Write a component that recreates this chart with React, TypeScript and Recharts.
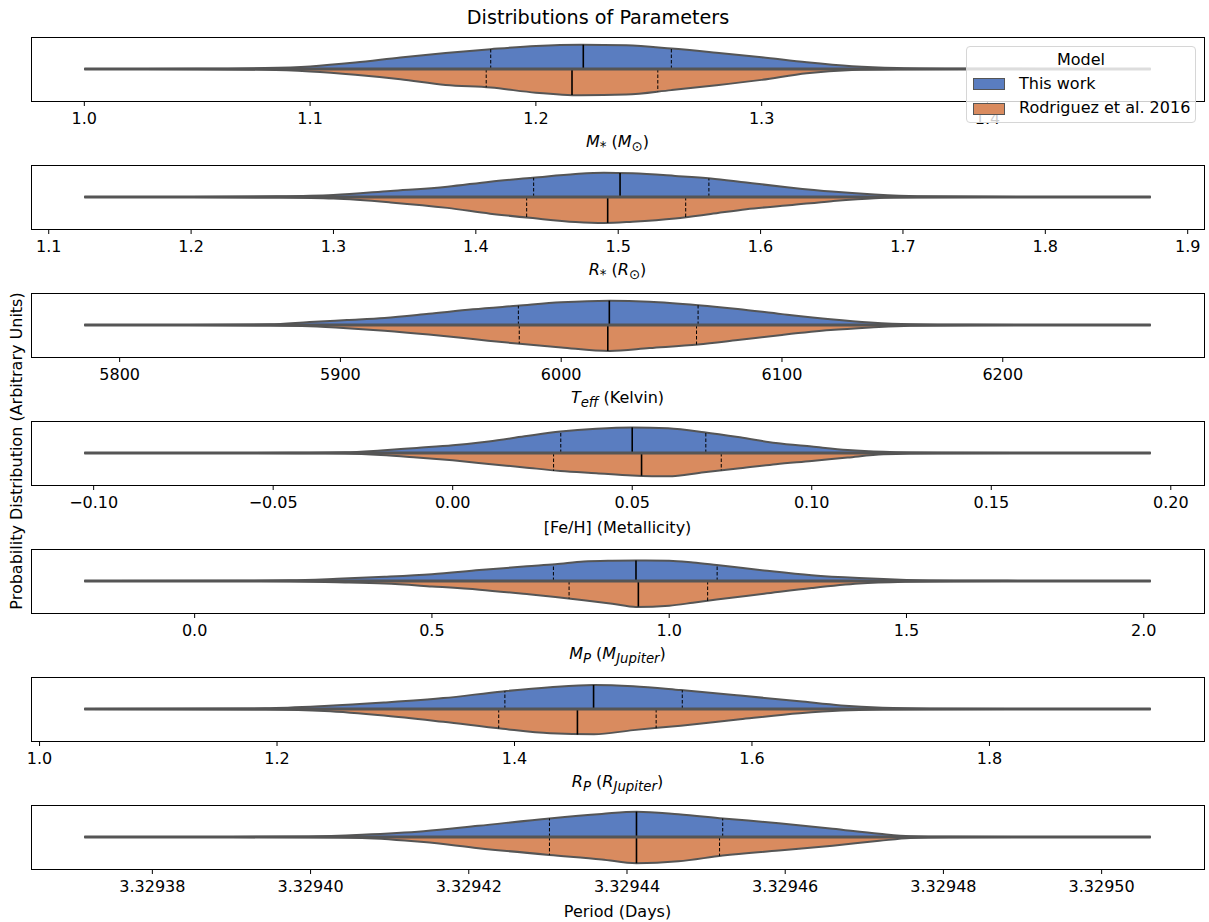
import React from "react";
import { AreaChart, Area, XAxis, YAxis, ReferenceLine } from "recharts";

const BLUE = "#5a7dc0";
const ORANGE = "#d98b5f";
const EDGE = "#555555";
const FONT = "'DejaVu Sans', sans-serif";
const FS = 16;

// M* (stellar mass)
const massX = [1.0, 1.05, 1.08, 1.1, 1.12, 1.14, 1.16, 1.18, 1.2, 1.22, 1.24, 1.26, 1.28, 1.3, 1.32, 1.34, 1.36, 1.39, 1.43, 1.4723];
const massBlue = [0, 0.002, 0.014, 0.04, 0.1, 0.18, 0.25, 0.31, 0.36, 0.38, 0.37, 0.32, 0.255, 0.185, 0.105, 0.044, 0.016, 0.004, 0.001, 0];
const massOrange = [0, 0.002, 0.011, 0.038, 0.09, 0.16, 0.25, 0.29, 0.37, 0.41, 0.4, 0.33, 0.255, 0.17, 0.065, 0.016, 0.005, 0.001, 0, 0];
const massQBlue = [1.18, 1.221, 1.26];
const massQBlueH = [0.31, 0.38, 0.32];
const massQOrange = [1.178, 1.216, 1.254];
const massQOrangeH = [0.286, 0.405, 0.35];
const massTicks = [1.0, 1.1, 1.2, 1.3, 1.4];

// R* (stellar radius)
const radX = [1.125, 1.2, 1.26, 1.3, 1.34, 1.38, 1.41, 1.44, 1.47, 1.49, 1.51, 1.54, 1.565, 1.59, 1.62, 1.65, 1.68, 1.71, 1.76, 1.874];
const radBlue = [0, 0.001, 0.01, 0.032, 0.095, 0.16, 0.24, 0.3, 0.36, 0.38, 0.37, 0.33, 0.29, 0.225, 0.15, 0.085, 0.04, 0.012, 0.002, 0];
const radOrange = [0, 0.001, 0.008, 0.025, 0.085, 0.17, 0.26, 0.33, 0.39, 0.405, 0.385, 0.335, 0.265, 0.19, 0.13, 0.065, 0.018, 0.004, 0.001, 0];
const radQBlue = [1.4406, 1.5013, 1.5637];
const radQBlueH = [0.3, 0.375, 0.29];
const radQOrange = [1.4357, 1.4926, 1.5474];
const radQOrangeH = [0.32, 0.405, 0.32];
const radTicks = [1.1, 1.2, 1.3, 1.4, 1.5, 1.6, 1.7, 1.8, 1.9];

// Teff
const teffX = [5784, 5830, 5868, 5886, 5903, 5920, 5940, 5960, 5980, 6000, 6022, 6040, 6062, 6080, 6100, 6122, 6140, 6158, 6185, 6230, 6267];
const teffBlue = [0, 0.001, 0.01, 0.047, 0.078, 0.11, 0.175, 0.245, 0.3, 0.355, 0.38, 0.365, 0.31, 0.25, 0.17, 0.09, 0.04, 0.012, 0.003, 0.001, 0];
const teffOrange = [0, 0.001, 0.008, 0.02, 0.05, 0.09, 0.15, 0.22, 0.29, 0.35, 0.405, 0.36, 0.305, 0.235, 0.155, 0.08, 0.04, 0.01, 0.002, 0, 0];
const teffQBlue = [5980.6, 6021.8, 6062];
const teffQBlueH = [0.3, 0.38, 0.31];
const teffQOrange = [5981, 6021.1, 6061.3];
const teffQOrangeH = [0.29, 0.405, 0.305];
const teffTicks = [5800, 5900, 6000, 6100, 6200];

// [Fe/H]
const fehX = [-0.1026, -0.06, -0.04, -0.03, -0.02, -0.01, 0.0, 0.01, 0.02, 0.03, 0.04, 0.05, 0.06, 0.07, 0.08, 0.09, 0.1, 0.11, 0.12, 0.135, 0.16, 0.1944];
const fehBlue = [0, 0.001, 0.004, 0.01, 0.04, 0.08, 0.12, 0.18, 0.26, 0.335, 0.38, 0.4, 0.385, 0.325, 0.245, 0.155, 0.1, 0.047, 0.018, 0.003, 0.001, 0];
const fehOrange = [0, 0.001, 0.003, 0.008, 0.03, 0.07, 0.115, 0.17, 0.225, 0.28, 0.315, 0.35, 0.365, 0.3, 0.24, 0.175, 0.125, 0.07, 0.02, 0.003, 0.001, 0];
const fehQBlue = [0.0301, 0.05, 0.0705];
const fehQBlueH = [0.335, 0.4, 0.32];
const fehQOrange = [0.0281, 0.0526, 0.0748];
const fehQOrangeH = [0.28, 0.355, 0.27];
const fehTicks = [-0.1, -0.05, 0.0, 0.05, 0.1, 0.15, 0.2];

// Mp (planet mass)
const mpX = [-0.2325, 0.1, 0.2, 0.3, 0.4, 0.5, 0.6, 0.7, 0.76, 0.82, 0.88, 0.93, 1.0, 1.05, 1.1, 1.2, 1.3, 1.4, 1.5, 1.6, 1.8, 2.0146];
const mpBlue = [0, 0.002, 0.01, 0.035, 0.065, 0.105, 0.17, 0.23, 0.26, 0.305, 0.318, 0.322, 0.318, 0.29, 0.25, 0.165, 0.09, 0.045, 0.016, 0.005, 0.001, 0];
const mpOrange = [0, 0.001, 0.005, 0.02, 0.04, 0.085, 0.135, 0.205, 0.25, 0.3, 0.355, 0.405, 0.385, 0.34, 0.29, 0.2, 0.11, 0.04, 0.012, 0.003, 0, 0];
const mpQBlue = [0.756, 0.93, 1.101];
const mpQBlueH = [0.258, 0.322, 0.25];
const mpQOrange = [0.789, 0.935, 1.081];
const mpQOrangeH = [0.275, 0.4, 0.31];
const mpTicks = [0.0, 0.5, 1.0, 1.5, 2.0];

// Rp (planet radius)
const rpX = [1.0377, 1.12, 1.19, 1.24, 1.29, 1.34, 1.39, 1.43, 1.467, 1.5, 1.54, 1.59, 1.64, 1.675, 1.71, 1.75, 1.82, 1.9358];
const rpBlue = [0, 0.002, 0.01, 0.045, 0.1, 0.17, 0.275, 0.34, 0.375, 0.355, 0.295, 0.21, 0.12, 0.055, 0.018, 0.004, 0.001, 0];
const rpOrange = [0, 0.002, 0.008, 0.03, 0.1, 0.2, 0.31, 0.38, 0.395, 0.33, 0.26, 0.16, 0.068, 0.024, 0.007, 0.002, 0, 0];
const rpQBlue = [1.3919, 1.4666, 1.5413];
const rpQBlueH = [0.278, 0.375, 0.295];
const rpQOrange = [1.3867, 1.453, 1.5193];
const rpQOrangeH = [0.305, 0.4, 0.3];
const rpTicks = [1.0, 1.2, 1.4, 1.6, 1.8];

// Period
const perX = [3.3293714, 3.32939, 3.3293997, 3.3294065, 3.3294143, 3.3294212, 3.3294302, 3.3294368, 3.3294412, 3.3294465, 3.3294521, 3.3294592, 3.329466, 3.3294719, 3.3294758, 3.3294807, 3.32949, 3.3295062];
const perBlue = [0, 0.001, 0.008, 0.035, 0.09, 0.175, 0.29, 0.36, 0.396, 0.355, 0.29, 0.215, 0.13, 0.05, 0.012, 0.003, 0.001, 0];
const perOrange = [0, 0.001, 0.004, 0.015, 0.08, 0.175, 0.28, 0.35, 0.41, 0.38, 0.29, 0.21, 0.135, 0.06, 0.016, 0.004, 0.001, 0];
const perQBlue = [3.3294302, 3.3294412, 3.3294521];
const perQBlueH = [0.29, 0.396, 0.29];
const perQOrange = [3.3294302, 3.3294412, 3.3294517];
const perQOrangeH = [0.28, 0.41, 0.295];
const perTicks = [3.32938, 3.3294, 3.32942, 3.32944, 3.32946, 3.32948, 3.3295];

const minus = (s: string) => s.replace("-", "\u2212");

const panels = [
  { x: massX, blue: massBlue, orange: massOrange, qb: massQBlue, qbh: massQBlueH, qo: massQOrange, qoh: massQOrangeH, ticks: massTicks, fmt: (v: number) => v.toFixed(1),
    label: <><i>M</i><sub>*</sub> (<i>M</i><sub>⊙</sub>)</> },
  { x: radX, blue: radBlue, orange: radOrange, qb: radQBlue, qbh: radQBlueH, qo: radQOrange, qoh: radQOrangeH, ticks: radTicks, fmt: (v: number) => v.toFixed(1),
    label: <><i>R</i><sub>*</sub> (<i>R</i><sub>⊙</sub>)</> },
  { x: teffX, blue: teffBlue, orange: teffOrange, qb: teffQBlue, qbh: teffQBlueH, qo: teffQOrange, qoh: teffQOrangeH, ticks: teffTicks, fmt: (v: number) => v.toFixed(0),
    label: <><i>T<sub>eff</sub></i> (Kelvin)</> },
  { x: fehX, blue: fehBlue, orange: fehOrange, qb: fehQBlue, qbh: fehQBlueH, qo: fehQOrange, qoh: fehQOrangeH, ticks: fehTicks, fmt: (v: number) => minus(v.toFixed(2)),
    label: <>[Fe/H] (Metallicity)</> },
  { x: mpX, blue: mpBlue, orange: mpOrange, qb: mpQBlue, qbh: mpQBlueH, qo: mpQOrange, qoh: mpQOrangeH, ticks: mpTicks, fmt: (v: number) => v.toFixed(1),
    label: <><i>M<sub>P</sub></i> (<i>M<sub>Jupiter</sub></i>)</> },
  { x: rpX, blue: rpBlue, orange: rpOrange, qb: rpQBlue, qbh: rpQBlueH, qo: rpQOrange, qoh: rpQOrangeH, ticks: rpTicks, fmt: (v: number) => v.toFixed(1),
    label: <><i>R<sub>P</sub></i> (<i>R<sub>Jupiter</sub></i>)</> },
  { x: perX, blue: perBlue, orange: perOrange, qb: perQBlue, qbh: perQBlueH, qo: perQOrange, qoh: perQOrangeH, ticks: perTicks, fmt: (v: number) => v.toFixed(5),
    label: <>Period (Days)</> },
];

function Violin({ p, top }: { p: any; top: number }) {
  const lo = p.x[0];
  const hi = p.x[p.x.length - 1];
  const pad = (hi - lo) * 0.05;
  const rows = p.x.map((v: number, i: number) => ({ x: v, blue: p.blue[i], orange: -p.orange[i] }));
  return (
    <>
      <div style={{ position: "absolute", left: 31, top, width: 1174, height: 65, border: "1px solid #000", boxSizing: "border-box" }} />
      <div style={{ position: "absolute", left: 0, top }}>
        <AreaChart width={1209} height={128} data={rows} margin={{ top: 0, right: 5, left: 31, bottom: 0 }}>
          <XAxis type="number" dataKey="x" domain={[lo - pad, hi + pad]} allowDataOverflow ticks={p.ticks} interval={0}
            tickFormatter={p.fmt} height={64} axisLine={false} tickSize={5} tickMargin={7}
            tickLine={{ stroke: "#000", strokeWidth: 1 }} tick={{ fill: "#000", fontSize: FS, fontFamily: FONT }} />
          <YAxis hide domain={[-0.5, 0.5]} allowDataOverflow />
          <Area dataKey="blue" type="monotone" baseValue={0} fill={BLUE} fillOpacity={1} stroke={EDGE} strokeWidth={2} isAnimationActive={false} dot={false} activeDot={false} />
          <Area dataKey="orange" type="monotone" baseValue={0} fill={ORANGE} fillOpacity={1} stroke={EDGE} strokeWidth={2} isAnimationActive={false} dot={false} activeDot={false} />
          {p.qb.map((q: number, i: number) => (
            <ReferenceLine key={"b" + i} segment={[{ x: q, y: 0 }, { x: q, y: p.qbh[i] }]} stroke="#000"
              strokeWidth={i === 1 ? 1.6 : 1} strokeDasharray={i === 1 ? undefined : "3.5 2"} />
          ))}
          {p.qo.map((q: number, i: number) => (
            <ReferenceLine key={"o" + i} segment={[{ x: q, y: 0 }, { x: q, y: -p.qoh[i] }]} stroke="#000"
              strokeWidth={i === 1 ? 1.6 : 1} strokeDasharray={i === 1 ? undefined : "3.5 2"} />
          ))}
          <ReferenceLine segment={[{ x: lo, y: 0 }, { x: hi, y: 0 }]} stroke={EDGE} strokeWidth={3} />
        </AreaChart>
      </div>
      <div style={{ position: "absolute", left: 617.5, top: top + 106, transform: "translate(-50%, -50%)", fontFamily: FONT, fontSize: FS, whiteSpace: "nowrap", color: "#000" }}>
        {p.label}
      </div>
    </>
  );
}

export default function App() {
  return (
    <div style={{ position: "absolute", left: 0, top: 0, width: 1209, height: 922, background: "#fff", fontFamily: FONT, overflow: "hidden" }}>
      <div style={{ position: "absolute", left: 598, top: 17, transform: "translate(-50%, -50%)", fontSize: 19.2, whiteSpace: "nowrap" }}>
        Distributions of Parameters
      </div>
      <div style={{ position: "absolute", left: 16, top: 451, transform: "translate(-50%, -50%) rotate(-90deg)", fontSize: FS, whiteSpace: "nowrap" }}>
        Probability Distribution (Arbitrary Units)
      </div>
      {panels.map((p, i) => (
        <Violin key={i} p={p} top={37 + 128 * i} />
      ))}
      <div style={{ position: "absolute", left: 966, top: 46, width: 230, height: 77, boxSizing: "border-box", border: "1px solid #d6d6d6", borderRadius: 4, background: "rgba(255,255,255,0.8)", fontSize: FS, lineHeight: "18px" }}>
        <div style={{ position: "absolute", left: 0, width: "100%", top: 4, textAlign: "center" }}>Model</div>
        <div style={{ position: "absolute", left: 6, top: 31, width: 32, height: 12, background: BLUE, border: "1px solid " + EDGE, boxSizing: "border-box" }} />
        <div style={{ position: "absolute", left: 52, top: 28 }}>This work</div>
        <div style={{ position: "absolute", left: 6, top: 56, width: 32, height: 12, background: ORANGE, border: "1px solid " + EDGE, boxSizing: "border-box" }} />
        <div style={{ position: "absolute", left: 52, top: 52 }}>Rodriguez et al. 2016</div>
      </div>
    </div>
  );
}
